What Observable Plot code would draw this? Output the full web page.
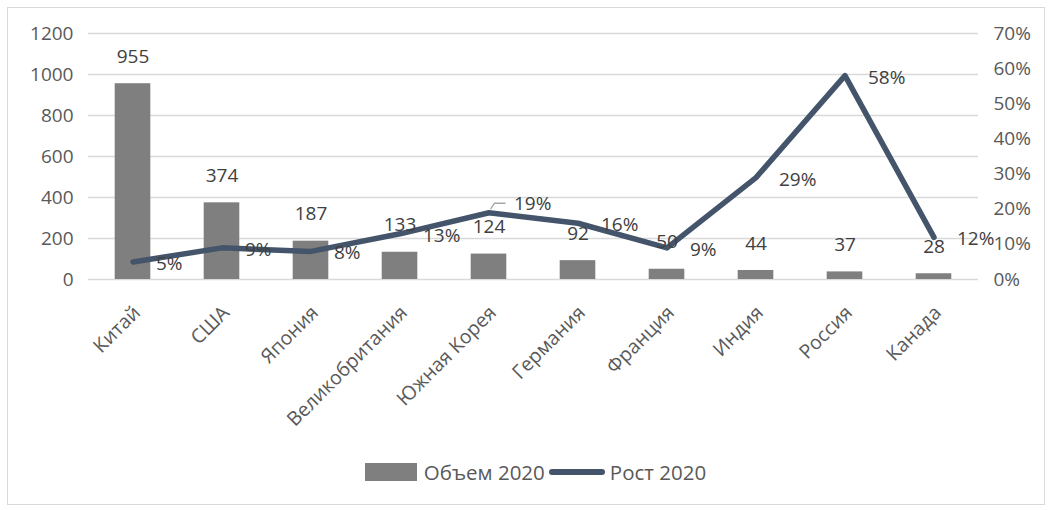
<!DOCTYPE html>
<html><head><meta charset="utf-8">
<script src="https://cdn.jsdelivr.net/npm/d3@7"></script>
<script src="https://cdn.jsdelivr.net/npm/@observablehq/plot@0.6"></script>
<style>
body{margin:0;background:#fff;font-family:"Open Sans",sans-serif;}
#wrap{position:relative;width:1051px;height:510px;overflow:hidden}
#frame{position:absolute;left:7px;top:7px;width:1038px;height:498px;border:1.5px solid #d9d9d9;box-sizing:border-box;pointer-events:none}
#legend{position:absolute;top:458px;left:10px;width:1051px;display:flex;justify-content:center;align-items:center;font-size:20.5px;color:#595959;line-height:28px}
.sw{display:inline-block;width:52px;height:18px;background:#7f7f7f;margin-right:7px}
.ln{display:inline-block;width:56px;height:6px;border-radius:3px;background:#44546a;margin:0 5px 0 4px}
</style></head><body>
<div id="wrap"><div id="chart"></div><div id="frame"></div>
<div id="legend"><span class="sw"></span><span>Объем 2020</span><span class="ln"></span><span>Рост 2020</span></div></div>
<script>
const countries = ["Китай","США","Япония","Великобритания","Южная Корея","Германия","Франция","Индия","Россия","Канада"];
const volume = [955,374,187,133,124,92,50,44,37,28];
const growth = [0.05,0.09,0.08,0.13,0.19,0.16,0.09,0.29,0.58,0.12];
const volTicks = [0,200,400,600,800,1000,1200];
const growthTicks = [0,0.1,0.2,0.3,0.4,0.5,0.6,0.7];

const VMAX = 1200, GMAX = 0.7;
const toV = g => g / GMAX * VMAX;
const data = countries.map((c,i)=>({country:c, volume:volume[i], growth:growth[i], gv:toV(growth[i])}));

const textColor = "#595959";
const labelColor = "#404040";
const chart = Plot.plot({
  width: 1051, height: 510,
  marginTop: 33, marginBottom: 231, marginLeft: 88, marginRight: 73,
  style: {fontFamily: "'Open Sans', sans-serif", fontSize: "19px", color: textColor, background: "transparent"},
  x: {domain: countries, paddingInner: 0.6, paddingOuter: 0.3, round: false},
  y: {domain: [0, VMAX]},
  marks: [
    Plot.gridY(volTicks, {stroke: "#d9d9d9", strokeOpacity: 1, strokeWidth: 1.5}),
    Plot.axisY(volTicks, {anchor: "left", tickSize: 0, tickPadding: 15, label: null, fill: textColor, fontSize: 19, tickFormat: d => String(d)}),
    Plot.axisY(growthTicks.map(toV), {anchor: "right", tickSize: 0, tickPadding: 15, label: null, fill: textColor, fontSize: 19,
      tickFormat: d => Math.round(d / VMAX * GMAX * 100) + "%"}),
    Plot.axisX({tickSize: 0, tickRotate: -45, tickPadding: 4, label: null, fill: textColor, fontSize: 19.5, dx: 4, dy: 26}),
    Plot.barY(data, {x: "country", y: "volume", fill: "#7f7f7f"}),
    Plot.line(data, {x: "country", y: "gv", stroke: "#44546a", strokeWidth: 5.5, strokeLinejoin: "round", strokeLinecap: "round"}),
    Plot.text(data, {x: "country", y: "volume", text: d => String(d.volume), dy: -27, fill: labelColor, fontSize: 19}),
    Plot.text(data.filter(d => d.country !== "Южная Корея"), {x: "country", y: "gv", text: d => Math.round(d.growth*100) + "%", dx: 23, dy: 2, textAnchor: "start", fill: labelColor, fontSize: 19}),
    Plot.text(data.filter(d => d.country === "Южная Корея"), {x: "country", y: "gv", text: d => Math.round(d.growth*100) + "%", dx: 25, dy: -9, textAnchor: "start", fill: labelColor, fontSize: 19})
  ]
});
document.getElementById("chart").appendChild(chart);

// leader line for the repositioned 19% label, anchored at the scaled point
const xs = chart.scale("x"), ys = chart.scale("y");
const sk = data.find(d => d.country === "Южная Корея");
const px = xs.apply(sk.country) + xs.bandwidth / 2, py = ys.apply(sk.gv);
const ns = "http://www.w3.org/2000/svg";
const pl = document.createElementNS(ns, "polyline");
pl.setAttribute("points", `${px+2},${py-3} ${px+6},${py-9} ${px+17},${py-9}`);
pl.setAttribute("fill", "none"); pl.setAttribute("stroke", "#a6a6a6"); pl.setAttribute("stroke-width", "1.3");
chart.appendChild(pl);
</script>
</body></html>
